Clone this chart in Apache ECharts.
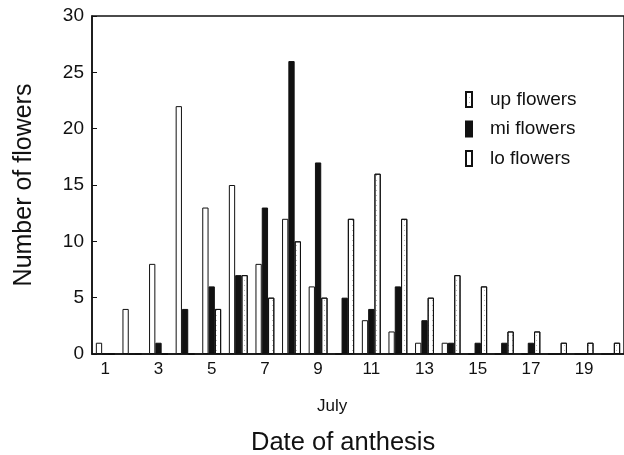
<!DOCTYPE html>
<html>
<head>
<meta charset="utf-8">
<script src="https://cdn.jsdelivr.net/npm/echarts@6/dist/echarts.min.js"></script>
<style>
  html, body { margin: 0; padding: 0; background: #fff; }
  #chart { width: 624px; height: 455px; }
</style>
</head>
<body>
<div id="chart"></div>
<script>
// days of July
const days = ['1', '2', '3', '4', '5', '6', '7', '8', '9', '10',
  '11', '12', '13', '14', '15', '16', '17', '18', '19', '20']
// number of flowers per day
const loFlowers = [1, 4, 8, 22, 13, 15, 8, 12, 6, 0, 3, 2, 1, 1, 0, 0, 0, 0, 0, 0]
const miFlowers = [0, 0, 1, 4, 6, 7, 13, 26, 17, 5, 4, 6, 3, 1, 1, 1, 1, 0, 0, 0]
const upFlowers = [0, 0, 0, 0, 4, 7, 5, 10, 5, 12, 16, 12, 5, 7, 6, 2, 2, 1, 1, 1]

const font = 'Liberation Sans, Arial, sans-serif'
const barIcon = 'path://M0,0h6v15h-6z'

let myChart = echarts.init(document.getElementById('chart'))

// stippled fill for the upper flowers
const stipple = {
  symbol: 'rect',
  symbolSize: 1,
  color: 'rgba(0,0,0,0.28)',
  dashArrayX: [1, 3],
  dashArrayY: [1, 4],
  rotation: 0
}

let option = {
  animation: false,
  textStyle: {fontFamily: font, color: '#111'},
  grid: {
    left: 92, right: -2, top: 16, bottom: 101,
    show: true, borderColor: '#111', borderWidth: 1.5, backgroundColor: 'transparent'
  },
  legend: {
    orient: 'vertical',
    left: 460,
    top: 85,
    itemWidth: 32,
    itemHeight: 15,
    itemGap: 10.5,
    textStyle: {fontSize: 19, color: '#111', fontFamily: font},
    data: [
      {name: 'up flowers', icon: barIcon},
      {name: 'mi flowers', icon: barIcon},
      {name: 'lo flowers', icon: barIcon}
    ]
  },
  xAxis: {
    type: 'category',
    data: days,
    boundaryGap: true,
    axisLine: {lineStyle: {color: '#111', width: 1.5}},
    axisTick: {inside: true, length: 4, interval: 0, lineStyle: {color: '#111'}},
    axisLabel: {interval: 1, fontSize: 17, color: '#111', margin: 7}
  },
  yAxis: {
    type: 'value',
    min: 0,
    max: 30,
    interval: 5,
    name: 'Number of flowers',
    nameLocation: 'middle',
    nameGap: 55,
    nameTextStyle: {fontSize: 25, color: '#111'},
    splitLine: {show: false},
    axisLine: {show: true, lineStyle: {color: '#111', width: 1.5}},
    axisTick: {show: true, inside: true, length: 5, lineStyle: {color: '#111'}},
    axisLabel: {fontSize: 19, color: '#111', margin: 8}
  },
  graphic: [
    {type: 'text', left: 317, top: 398, style: {text: 'July', fontSize: 17, fontFamily: font, fill: '#111'}},
    {type: 'text', left: 251, top: 430, style: {text: 'Date of anthesis', fontSize: 25.5, fontFamily: font, fill: '#111'}}
  ],
  series: [
    {
      name: 'lo flowers',
      type: 'bar',
      data: loFlowers,
      barGap: '0%',
      barCategoryGap: '29%',
      itemStyle: {color: '#fff', borderColor: '#111', borderWidth: 1}
    },
    {
      name: 'mi flowers',
      type: 'bar',
      data: miFlowers,
      itemStyle: {color: '#111', borderColor: '#111', borderWidth: 1}
    },
    {
      name: 'up flowers',
      type: 'bar',
      data: upFlowers,
      itemStyle: {color: '#fff', borderColor: '#111', borderWidth: 1, decal: stipple}
    }
  ]
}

myChart.setOption(option)
</script>
</body>
</html>
